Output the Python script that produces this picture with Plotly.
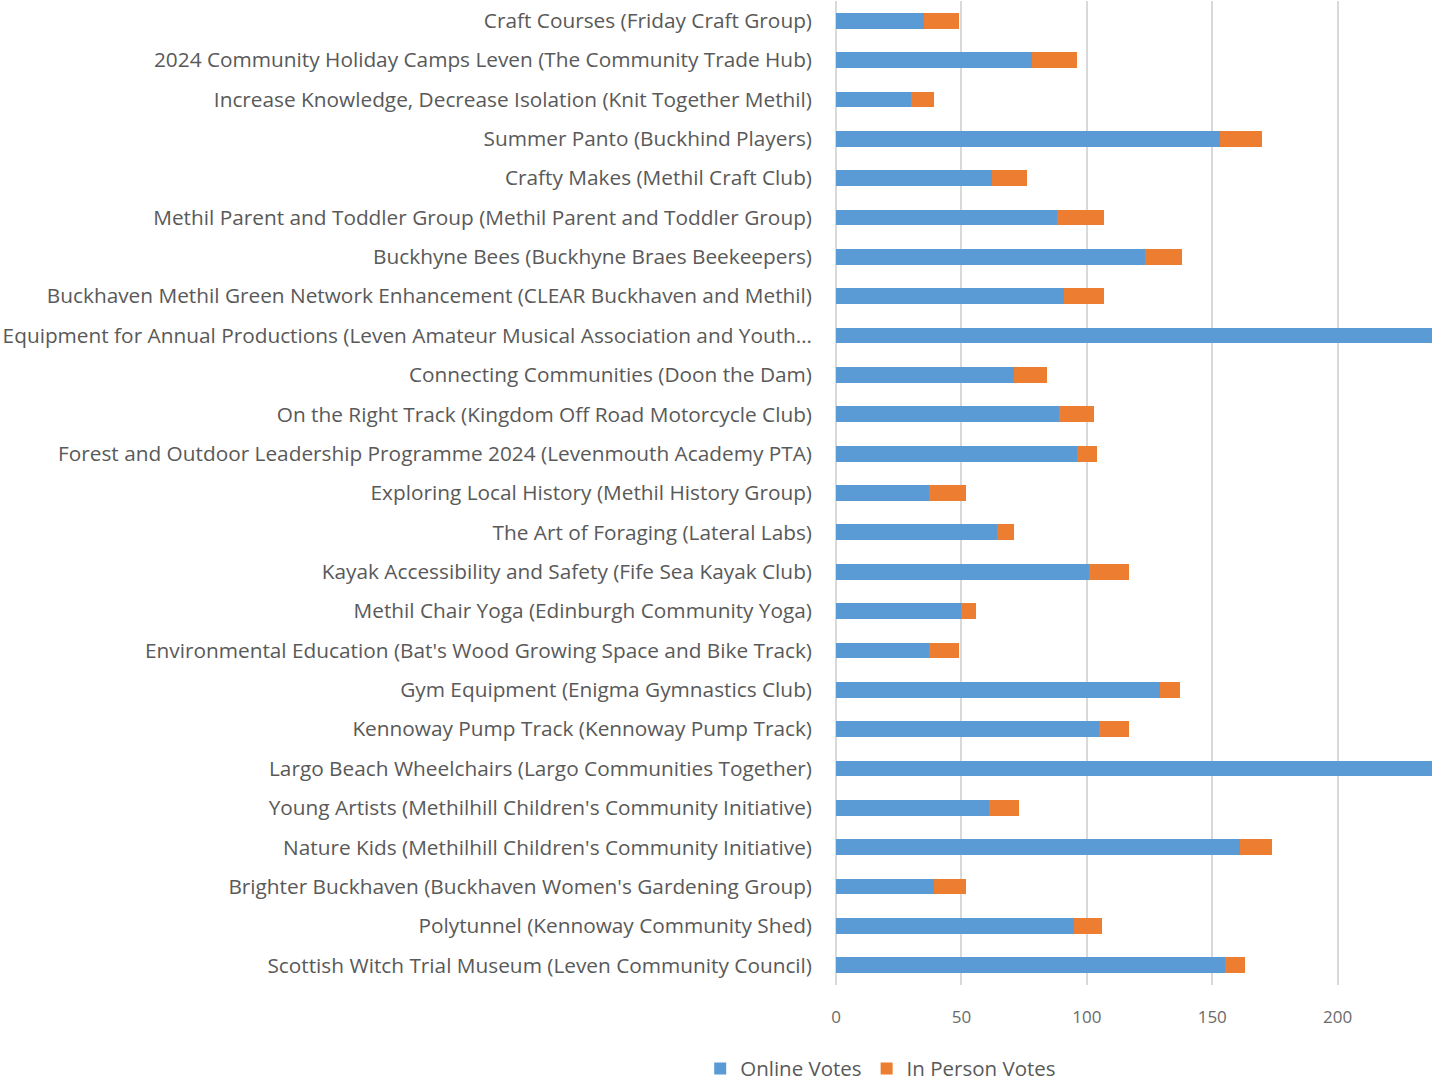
import plotly.graph_objects as go

projects = [
    "Craft Courses (Friday Craft Group)",
    "2024 Community Holiday Camps Leven (The Community Trade Hub)",
    "Increase Knowledge, Decrease Isolation (Knit Together Methil)",
    "Summer Panto (Buckhind Players)",
    "Crafty Makes (Methil Craft Club)",
    "Methil Parent and Toddler Group (Methil Parent and Toddler Group)",
    "Buckhyne Bees (Buckhyne Braes Beekeepers)",
    "Buckhaven Methil Green Network Enhancement (CLEAR Buckhaven and Methil)",
    "Equipment for Annual Productions (Leven Amateur Musical Association and Youth…",
    "Connecting Communities (Doon the Dam)",
    "On the Right Track (Kingdom Off Road Motorcycle Club)",
    "Forest and Outdoor Leadership Programme 2024 (Levenmouth Academy PTA)",
    "Exploring Local History (Methil History Group)",
    "The Art of Foraging (Lateral Labs)",
    "Kayak Accessibility and Safety (Fife Sea Kayak Club)",
    "Methil Chair Yoga (Edinburgh Community Yoga)",
    "Environmental Education (Bat's Wood Growing Space and Bike Track)",
    "Gym Equipment (Enigma Gymnastics Club)",
    "Kennoway Pump Track (Kennoway Pump Track)",
    "Largo Beach Wheelchairs (Largo Communities Together)",
    "Young Artists (Methilhill Children's Community Initiative)",
    "Nature Kids (Methilhill Children's Community Initiative)",
    "Brighter Buckhaven (Buckhaven Women's Gardening Group)",
    "Polytunnel (Kennoway Community Shed)",
    "Scottish Witch Trial Museum (Leven Community Council)",
]

online_votes = [35, 78, 30, 153, 62, 88, 123, 91, 260, 71, 89, 96, 37, 64, 101, 50, 37, 129, 105, 260, 61, 161, 39, 95, 155]
in_person_votes = [14, 18, 9, 17, 14, 19, 15, 16, 20, 13, 14, 8, 15, 7, 16, 6, 12, 8, 12, 20, 12, 13, 13, 11, 8]

x_ticks = [0, 50, 100, 150, 200]

FONT = "Open Sans"
GREY = "#595959"

fig = go.Figure()
fig.add_trace(go.Bar(
    y=projects, x=online_votes, orientation="h", name="Online Votes",
    marker=dict(color="#5B9BD5", line=dict(color="#5B9BD5", width=0)),
))
fig.add_trace(go.Bar(
    y=projects, x=in_person_votes, orientation="h", name="In Person Votes",
    marker=dict(color="#ED7D31", line=dict(color="#ED7D31", width=0)),
))

fig.update_layout(
    barmode="stack",
    bargap=0.6,
    width=1432, height=1081,
    margin=dict(l=836, r=0, t=1, b=96, autoexpand=False),
    paper_bgcolor="white",
    plot_bgcolor="white",
    font=dict(family=FONT, color=GREY, size=20.8),
    showlegend=True,
    legend=dict(
        orientation="h", x=0.075, xanchor="center", y=-0.085, yanchor="middle",
        font=dict(family=FONT, size=20.5, color=GREY),
        traceorder="normal", itemwidth=30,
    ),
    xaxis=dict(
        range=[0, 237.6], tickvals=x_ticks, ticktext=[str(v) for v in x_ticks],
        showgrid=True, gridcolor="#d9d9d9", gridwidth=1.5,
        zeroline=True, zerolinecolor="#d9d9d9", zerolinewidth=1.5,
        showline=False, ticks="", ticklabelstandoff=20,
        tickfont=dict(family=FONT, size=17, color="#6a6a6a"),
        fixedrange=True,
    ),
    yaxis=dict(
        autorange="reversed", type="category",
        showgrid=False, zeroline=False, showline=False, ticks="",
        ticklabelstandoff=23,
        tickfont=dict(family=FONT, size=20.8, color=GREY),
        fixedrange=True,
    ),
)

fig.write_html("out.html", config={"displayModeBar": False},
               post_script="document.body.style.margin='0';")
